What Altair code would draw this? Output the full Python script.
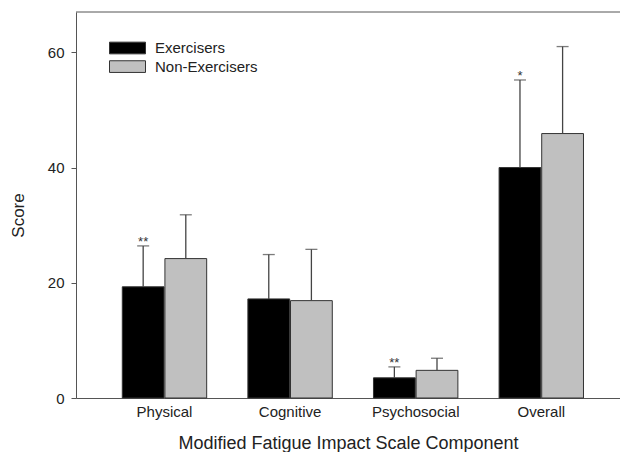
import altair as alt
import pandas as pd

components = ["Physical", "Cognitive", "Psychosocial", "Overall"]
groups = ["Exercisers", "Non-Exercisers"]
ex_mean = [19.3, 17.2, 3.5, 40.0]
ex_upper = [26.4, 24.9, 5.4, 55.2]
non_mean = [24.2, 16.9, 4.8, 45.9]
non_upper = [31.8, 25.8, 6.9, 61.0]
ex_stars = ["**", "", "**", "*"]
y_max = 67

rows = []
for i, c in enumerate(components):
    rows.append({"Component": c, "Group": groups[0], "mean": ex_mean[i], "upper": ex_upper[i], "star": ex_stars[i]})
    rows.append({"Component": c, "Group": groups[1], "mean": non_mean[i], "upper": non_upper[i], "star": ""})
df = pd.DataFrame(rows)

FONT = "Liberation Sans"
W = 544
H = 386

x_enc = alt.X(
    "Component:N",
    sort=components,
    scale=alt.Scale(paddingInner=0.328, paddingOuter=0.3296, align=0.559),
    axis=alt.Axis(
        title="Modified Fatigue Impact Scale Component",
        labelAngle=0,
        ticks=False,
        labelPadding=6,
        labelFontSize=15,
        labelFont=FONT,
        labelColor="#222222",
        titleFont=FONT,
        titleFontSize=18,
        titleFontWeight="normal",
        titleColor="#222222",
        titleBaseline="alphabetic",
        titleY=50,
        domainColor="#555555",
        domainWidth=1,
    ),
)
xo_enc = alt.XOffset(
    "Group:N", sort=groups, scale=alt.Scale(paddingInner=0.02, paddingOuter=0)
)

y_scale = alt.Scale(domain=[0, y_max], nice=False, zero=True)

base = alt.Chart(df)

bars = base.mark_bar(stroke="#333333", strokeWidth=1).encode(
    x=x_enc,
    xOffset=xo_enc,
    y=alt.Y(
        "mean:Q",
        scale=y_scale,
        axis=alt.Axis(
            title="Score",
            values=[0, 20, 40, 60],
            grid=False,
            tickSize=5,
            tickColor="#555555",
            labelPadding=7,
            labelFontSize=15,
            labelFont=FONT,
            labelColor="#222222",
            titleFont=FONT,
            titleFontSize=17,
            titleFontWeight="normal",
            titleColor="#222222",
            titleAngle=-90,
            titleAlign="center",
            titleBaseline="middle",
            titleX=-58,
            titleY=203,
            domainColor="#555555",
            domainWidth=1,
        ),
    ),
    color=alt.Color(
        "Group:N",
        sort=groups,
        scale=alt.Scale(domain=groups, range=["#000000", "#c0c0c0"]),
        legend=alt.Legend(
            title=None,
            orient="none",
            legendX=33,
            legendY=28,
            padding=0,
            symbolType="M-1,-0.325L1,-0.325L1,0.325L-1,0.325Z",
            symbolSize=1296,
            symbolStrokeColor="#333333",
            symbolStrokeWidth=1,
            symbolOpacity=1,
            clipHeight=16,
            rowPadding=2.6,
            labelOffset=9,
            labelFont=FONT,
            labelFontSize=15,
            labelColor="#222222",
            labelLimit=300,
        ),
    ),
)

err = base.mark_rule(color="#444444", strokeWidth=1.3).encode(
    x=alt.X("Component:N", sort=components),
    xOffset=alt.XOffset("Group:N", sort=groups),
    y=alt.Y("mean:Q"),
    y2="upper:Q",
)

caps = base.mark_tick(color="#444444", thickness=1.3, size=12, orient="horizontal").encode(
    x=alt.X("Component:N", sort=components),
    xOffset=alt.XOffset("Group:N", sort=groups),
    y=alt.Y("upper:Q"),
)

stars = base.transform_filter(alt.datum.star != "").mark_text(
    font=FONT, fontSize=13, color="#333333", baseline="alphabetic", align="center", dy=0
).encode(
    x=alt.X("Component:N", sort=components),
    xOffset=alt.XOffset("Group:N", sort=groups),
    y=alt.Y("upper:Q"),
    text="star:N",
)

top_frame = alt.Chart(pd.DataFrame({"y": [y_max]})).mark_rule(
    color="#555555", strokeWidth=1
).encode(
    y=alt.Y("y:Q"),
    x=alt.value(0),
    x2=alt.value(W),
)

chart = (
    alt.layer(bars, err, caps, stars, top_frame)
    .properties(
        width=W,
        height=H,
        autosize=alt.AutoSizeParams(type="none"),
        padding={"left": 68, "top": 4, "right": 0, "bottom": 54},
        background="white",
    )
    .configure_view(stroke=None)
)

chart.save("out.html", embed_options={"renderer": "svg", "actions": False})
